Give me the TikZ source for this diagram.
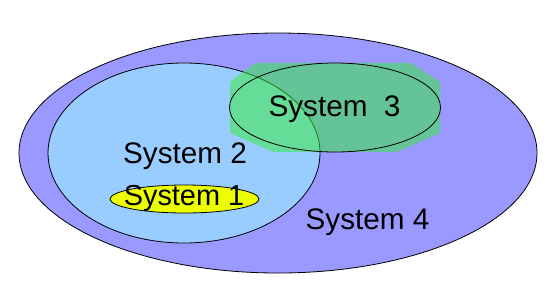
\documentclass[tikz,border=0pt]{standalone}
\usepackage{fontspec}
\setmainfont{Liberation Sans}
\usetikzlibrary{shapes.geometric}
\definecolor{sysfour}{RGB}{153,153,255}
\definecolor{systwo}{RGB}{153,204,255}
\definecolor{systhree}{RGB}{51,238,51}
\definecolor{sysone}{RGB}{235,255,0}
\tikzset{
  sysell/.style={ellipse, draw=black, line width=0.8pt, inner sep=0pt},
  lbl/.style={font=\fontsize{29.8}{34}\selectfont, text=black, inner sep=0pt, anchor=base}
}
\begin{document}
\begin{tikzpicture}[x=1bp,y=-1bp]
\useasboundingbox (0,0) rectangle (556,298);
\fill[white] (0,0) rectangle (556,298);
\node[sysell, fill=sysfour, minimum width=518bp, minimum height=240bp] (s4) at (278,153) {};
\node[sysell, fill=systwo, minimum width=272bp, minimum height=180bp] (s2) at (184,153) {};
\fill[systhree, opacity=0.5] (255,63) -- (411,63) -- (440,82) -- (440,133) -- (397,152) -- (273,152) -- (230,133) -- (230,82) -- cycle;
\node[sysell, minimum width=211bp, minimum height=89bp] (s3) at (335,107.5) {};
\node[sysell, fill=sysone, minimum width=149bp, minimum height=28bp] (s1) at (184.5,199) {};
\node[lbl] (l2) at (185,163) {System 2};
\node[lbl, font=\fontsize{29}{34}\selectfont] (l1) at (184,205) {System 1};
\node[lbl] (l3) at (334.5,116) {System\ \ 3};
\node[lbl] (l4) at (367.5,229) {System 4};
\end{tikzpicture}
\end{document}
